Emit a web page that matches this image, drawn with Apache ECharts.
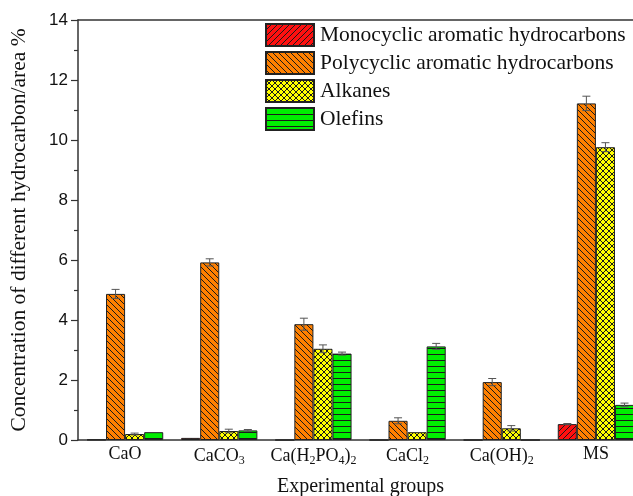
<!DOCTYPE html>
<html>
<head>
<meta charset="utf-8">
<style>
  html, body { margin: 0; padding: 0; background: #fff; }
  #chart { width: 633px; height: 496px; }
</style>
<script src="https://cdn.jsdelivr.net/npm/echarts@6/dist/echarts.min.js"></script>
</head>
<body>
<div id="chart"></div>
<script>
// Experimental groups (rich-text markup used for subscripts)
const categories = ['CaO', 'CaCO{s|3}', 'Ca(H{s|2}PO{s|4}){s|2}', 'CaCl{s|2}', 'Ca(OH){s|2}', 'MS'];

const seriesNames = [
  'Monocyclic aromatic hydrocarbons',
  'Polycyclic aromatic hydrocarbons',
  'Alkanes',
  'Olefins'
];

// Mean concentrations (area %)
const monocyclic = [0.01, 0.07, 0, 0, 0, 0.53];
const polycyclic = [4.87, 5.92, 3.86, 0.64, 1.93, 11.22];
const alkanes    = [0.20, 0.30, 3.04, 0.26, 0.39, 9.76];
const olefins    = [0.26, 0.32, 2.88, 3.12, 0, 1.17];

// Standard deviations
const monocyclicErr = [0, 0, 0, 0, 0, 0.02];
const polycyclicErr = [0.15, 0.12, 0.20, 0.10, 0.12, 0.24];
const alkanesErr    = [0.03, 0.06, 0.13, 0, 0.09, 0.15];
const olefinsErr    = [0, 0.03, 0.05, 0.10, 0, 0.06];

const yTicks = { min: 0, max: 14, interval: 2 };

const values = [monocyclic, polycyclic, alkanes, olefins];
const errors = [monocyclicErr, polycyclicErr, alkanesErr, olefinsErr];

// Hatch fills drawn on small canvases and tiled
function makePattern(bg, draw) {
  const size = 6;
  const c = document.createElement('canvas');
  c.width = size; c.height = size;
  const ctx = c.getContext('2d');
  ctx.fillStyle = bg;
  ctx.fillRect(0, 0, size, size);
  ctx.strokeStyle = '#1a1a1a';
  ctx.lineWidth = 1;
  draw(ctx, size);
  return { image: c, repeat: 'repeat' };
}
function diagUp(ctx, s) { // "/" lines
  ctx.beginPath();
  ctx.moveTo(-1, s + 1); ctx.lineTo(s + 1, -1);
  ctx.moveTo(-1, 1); ctx.lineTo(1, -1);
  ctx.moveTo(s - 1, s + 1); ctx.lineTo(s + 1, s - 1);
  ctx.stroke();
}
function diagDown(ctx, s) { // "\" lines
  ctx.beginPath();
  ctx.moveTo(-1, -1); ctx.lineTo(s + 1, s + 1);
  ctx.moveTo(s - 1, -1); ctx.lineTo(s + 1, 1);
  ctx.moveTo(-1, s - 1); ctx.lineTo(1, s + 1);
  ctx.stroke();
}
function cross(ctx, s) {
  diagUp(ctx, s);
  diagDown(ctx, s);
}
function horiz(ctx, s) {
  ctx.fillStyle = '#1a1a1a';
  ctx.fillRect(0, 0, s, 1);
}

const fills = [
  makePattern('#ff1010', diagUp),
  makePattern('#ff8000', diagDown),
  makePattern('#ffff00', cross),
  makePattern('#00ee00', horiz)
];

const catGap = 0.19;
const errColor = '#555';

const barSeries = seriesNames.map((name, i) => ({
  name: name,
  type: 'bar',
  data: values[i],
  barGap: '0%',
  barCategoryGap: (catGap * 100) + '%',
  itemStyle: { color: fills[i], borderColor: '#222', borderWidth: 1 },
  emphasis: { disabled: true },
  z: 2
}));

const errSeries = seriesNames.map((name, i) => ({
  type: 'custom',
  silent: true,
  z: 3,
  data: values[i].map((v, k) => [k, v, errors[i][k]]),
  renderItem: function (params, api) {
    const k = api.value(0), v = api.value(1), e = api.value(2);
    if (!(e > 0)) return null;
    const band = api.size([1, 0])[0];
    const bw = band * (1 - catGap) / 4;
    const x = api.coord([k, v])[0] + bw * (i - 1.5);
    const top = api.coord([k, v + e])[1];
    const bot = api.coord([k, v - e])[1];
    const cap = 4;
    const style = { stroke: errColor, lineWidth: 1, fill: null };
    return {
      type: 'group',
      children: [
        { type: 'line', shape: { x1: x, y1: top, x2: x, y2: bot }, style: style },
        { type: 'line', shape: { x1: x - cap, y1: top, x2: x + cap, y2: top }, style: style },
        { type: 'line', shape: { x1: x - cap, y1: bot, x2: x + cap, y2: bot }, style: style }
      ]
    };
  }
}));

const chart = echarts.init(document.getElementById('chart'), null, { renderer: 'canvas' });

chart.setOption({
  animation: false,
  backgroundColor: '#fff',
  grid: { left: 78, top: 20, right: -10, bottom: 56, containLabel: false, outerBoundsMode: 'none' },
  legend: {
    data: seriesNames.map(n => ({ name: n, icon: 'rect' })),
    orient: 'vertical',
    left: 265,
    top: 23,
    padding: 0,
    itemWidth: 48,
    itemHeight: 22,
    itemGap: 4,
    textStyle: { fontFamily: 'Liberation Serif', fontSize: 21.5, color: '#111', padding: [0, 0, 0, 1] },
    selectedMode: false
  },
  xAxis: [{
    type: 'category',
    data: categories,
    axisLine: { lineStyle: { color: '#333', width: 1.5 } },
    axisTick: { show: false },
    axisLabel: {
      interval: 0,
      margin: 5,
      fontFamily: 'Liberation Serif',
      fontSize: 18,
      color: '#111',
      rich: {
        s: { fontFamily: 'Liberation Serif', fontSize: 12, color: '#111', verticalAlign: 'bottom', padding: [10, 0, 0, 0] }
      }
    },
    name: 'Experimental groups',
    nameLocation: 'middle',
    nameGap: 37,
    nameTextStyle: { fontFamily: 'Liberation Serif', fontSize: 20, color: '#111' }
  }, {
    type: 'category',
    position: 'top',
    data: categories,
    axisLine: { show: true, lineStyle: { color: '#333', width: 1.5 } },
    axisTick: { show: false },
    axisLabel: { show: false }
  }],
  yAxis: {
    type: 'value',
    min: yTicks.min,
    max: yTicks.max,
    interval: yTicks.interval,
    splitLine: { show: false },
    axisLine: { show: true, lineStyle: { color: '#333', width: 1.5 } },
    axisTick: { show: true, inside: false, length: 7, lineStyle: { color: '#333', width: 1.2 } },
    minorTick: { show: true, splitNumber: 2, length: 4, lineStyle: { color: '#333', width: 1.2 } },
    axisLabel: { margin: 10, fontFamily: 'Liberation Sans', fontSize: 17, color: '#111' },
    name: 'Concentration of different hydrocarbon/area %',
    nameLocation: 'middle',
    nameGap: 48,
    nameTextStyle: { fontFamily: 'Liberation Serif', fontSize: 21.5, color: '#111' }
  },
  series: barSeries.concat(errSeries)
});
</script>
</body>
</html>
